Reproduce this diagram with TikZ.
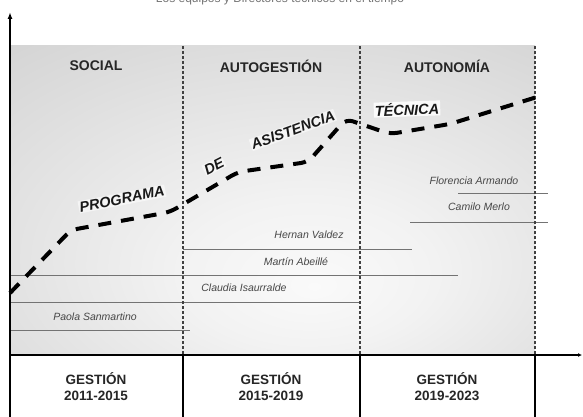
\documentclass[tikz,border=0pt]{standalone}
\usepackage{fontspec}
\setmainfont{Liberation Sans}
\usetikzlibrary{arrows.meta}
\pgfdeclareradialshading{panelshade}{\pgfpoint{4bp}{-14bp}}{color(0bp)=(white!98!black); color(12bp)=(white!95!black); color(40bp)=(white!84!black); color(58bp)=(white!74!black); color(80bp)=(white!71!black)}
\tikzset{
  axis/.style={line width=1.4pt, black},
  divider/.style={line width=1.1pt, black!75, dash pattern=on 3pt off 2pt},
  cell/.style={line width=1.2pt, black},
  trend/.style={line width=4pt, black, dash pattern=on 13pt off 10pt, rounded corners=7pt},
  personline/.style={line width=0.7pt, black!55},
  head/.style={font=\fontsize{14}{16}\selectfont\bfseries, text=black!85},
  period/.style={font=\fontsize{13.5}{16}\selectfont\bfseries, text=black!85, align=center},
  curvelabel/.style={font=\fontsize{14.5}{16}\selectfont\bfseries\itshape, text=black!90, fill=white, fill opacity=0.55, text opacity=1, inner sep=1pt},
  personname/.style={font=\fontsize{10.5}{12}\selectfont\itshape, text=black!72},
}
\begin{document}
\begin{tikzpicture}[x=1pt,y=-1pt]
\clip (0,0) rectangle (583,417);
\fill[white] (0,0) rectangle (583,417);
% clipped title
\node[anchor=base, font=\fontsize{12}{14}\selectfont, text=black!55] (title) at (280,3) {Los equipos y Directores técnicos en el tiempo};
% shaded panel
\shade[shading=panelshade] (10,46) rectangle (535,355);
% person lines
\draw[personline] (458,193) -- (548,193);
\draw[personline] (410,222) -- (548,222);
\draw[personline] (183,249) -- (412,249);
\draw[personline] (10,275) -- (458,275);
\draw[personline] (10,302) -- (359,302);
\draw[personline] (10,330) -- (190,330);
% dividers
\draw[divider] (183,46) -- (183,355);
\draw[divider] (360,46) -- (360,355);
\draw[divider] (535,46) -- (535,355);
% bottom cells
\draw[cell] (183,355) -- (183,417);
\draw[cell] (360,355) -- (360,417);
\draw[cell] (535,355) -- (535,417);
% axes
\coordinate (o) at (10,355);
\coordinate (ytop) at (10,12);
\coordinate (ybot) at (10,417);
\coordinate (xend) at (582,355);
\draw[axis, -{Latex[length=7pt,width=5pt]}] (ybot) -- (ytop);
\draw[axis, -{Latex[length=4pt,width=4pt]}] (o) -- (xend);
% headers
\node[head] (social) at (96,66) {SOCIAL};
\node[head] (autog) at (271,66) {AUTOGESTIÓN};
\node[head] (auton) at (447,66) {AUTONOMÍA};
% periods
\node[period] (p1) at (96,387) {GESTIÓN\\2011-2015};
\node[period] (p2) at (271,387) {GESTIÓN\\2015-2019};
\node[period] (p3) at (447,387) {GESTIÓN\\2019-2023};
% names
\node[personname] (fa) at (474,181) {Florencia Armando};
\node[personname] (cm) at (479,207) {Camilo Merlo};
\node[personname] (hv) at (309,235) {Hernan Valdez};
\node[personname] (ma) at (296,262) {Martín Abeillé};
\node[personname] (ci) at (244,288) {Claudia Isaurralde};
\node[personname] (ps) at (95,317) {Paola Sanmartino};
% trend
\draw[trend] (10,293) -- (71,230) -- (170,212) -- (238,172) -- (308,162) -- (346,119) -- (390,134) -- (450,124) -- (537,97);
% curve labels
\node[curvelabel, rotate=11] (prog) at (122,199) {PROGRAMA};
\node[curvelabel, rotate=27] (de) at (214,166) {DE};
\node[curvelabel, rotate=20] (asis) at (293,130) {ASISTENCIA};
\node[curvelabel, fill opacity=0.85, rotate=2] (tec) at (407,109) {TÉCNICA};
\end{tikzpicture}
\end{document}
